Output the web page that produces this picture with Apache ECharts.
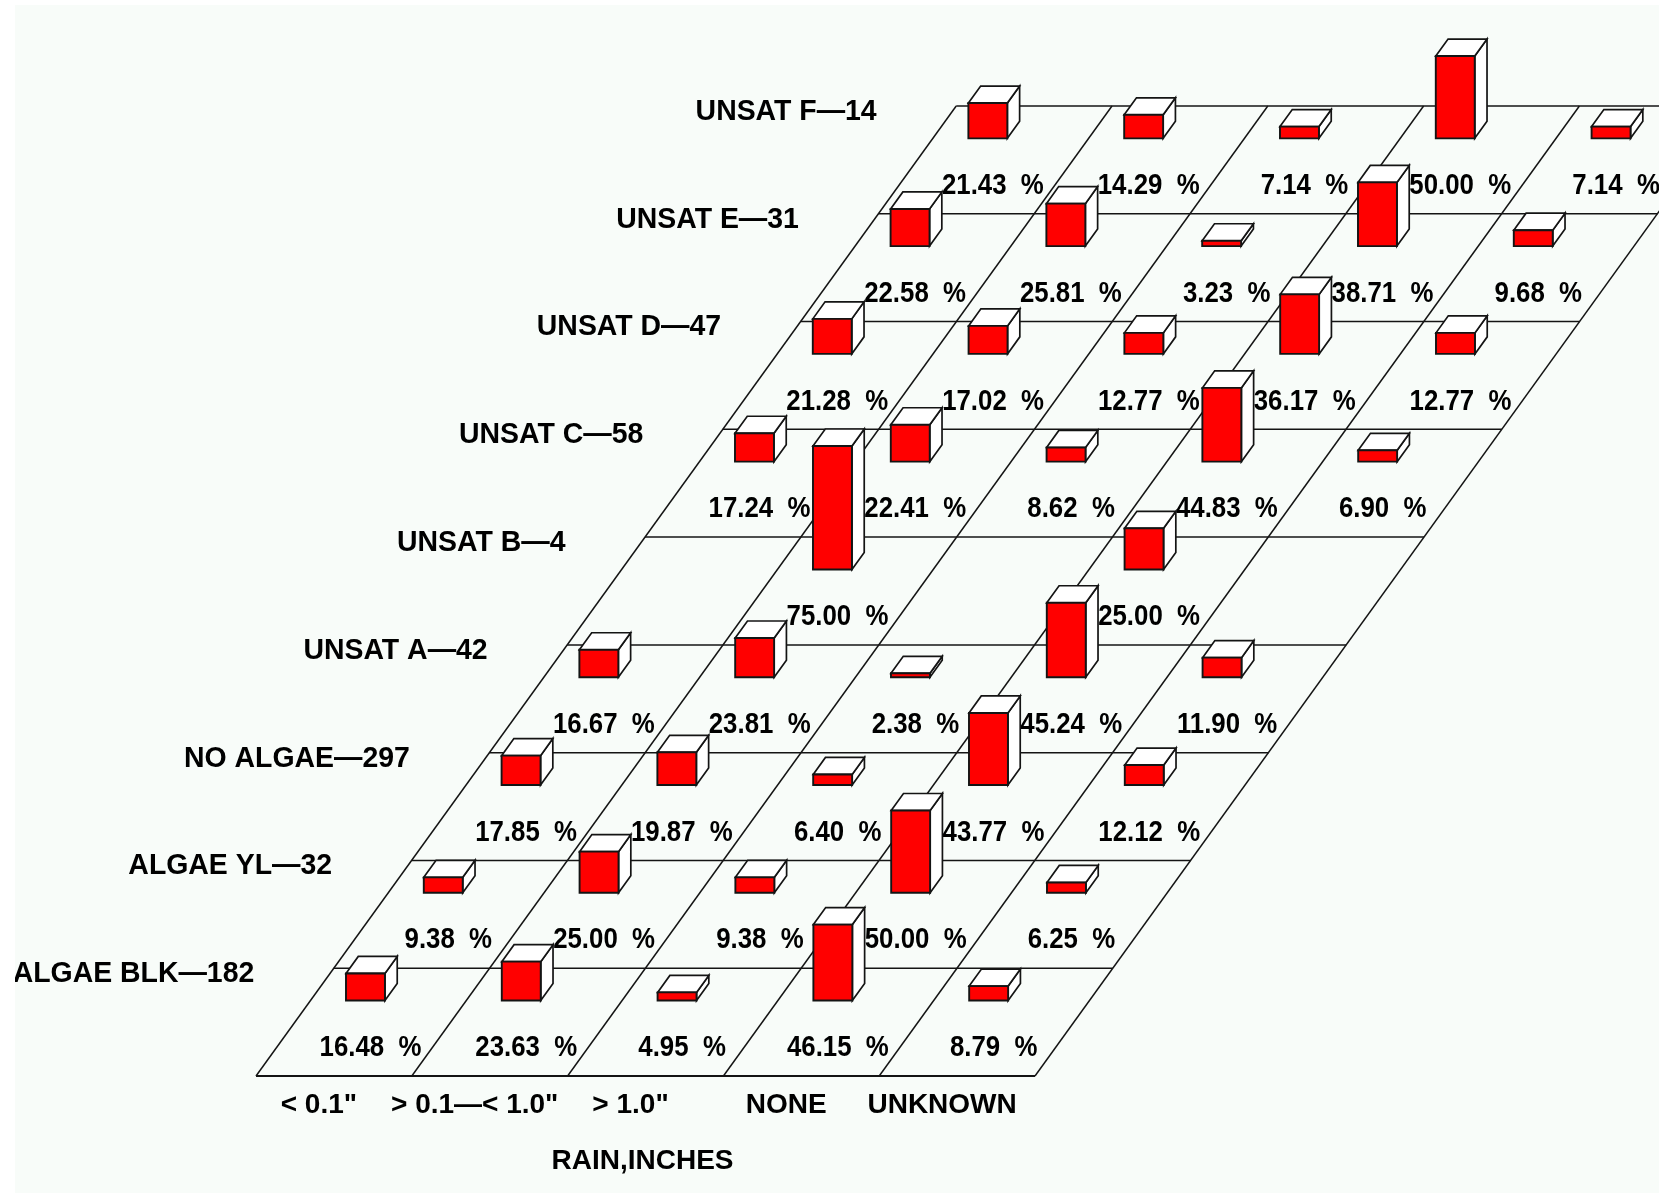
<!DOCTYPE html>
<html>
<head>
<meta charset="utf-8">
<style>
  html, body { margin: 0; background: #fff; }
  #chart { position: absolute; left: 15px; top: 5px; width: 1644px; height: 1188px; background: #f8fcf9; }
</style>
<script src="https://cdn.jsdelivr.net/npm/echarts@6/dist/echarts.min.js"></script>
</head>
<body>
<div id="chart"></div>
<script>
// 横轴 rain categories
const columns = ['< 0.1"', '> 0.1—< 1.0"', '> 1.0"', 'NONE', 'UNKNOWN']
// rows, front to back
const rowLabels = ['ALGAE BLK—182', 'ALGAE YL—32', 'NO ALGAE—297', 'UNSAT A—42', 'UNSAT B—4', 'UNSAT C—58', 'UNSAT D—47', 'UNSAT E—31', 'UNSAT F—14']
const algaeBlk = [16.48, 23.63, 4.95, 46.15, 8.79]
const algaeYl = [9.38, 25.00, 9.38, 50.00, 6.25]
const noAlgae = [17.85, 19.87, 6.40, 43.77, 12.12]
const unsatA = [16.67, 23.81, 2.38, 45.24, 11.90]
const unsatB = [null, 75.00, null, 25.00, null]
const unsatC = [17.24, 22.41, 8.62, 44.83, 6.90]
const unsatD = [21.28, 17.02, 12.77, 36.17, 12.77]
const unsatE = [22.58, 25.81, 3.23, 38.71, 9.68]
const unsatF = [21.43, 14.29, 7.14, 50.00, 7.14]
const rows = [algaeBlk, algaeYl, noAlgae, unsatA, unsatB, unsatC, unsatD, unsatE, unsatF]

// 剪切投影 the floor is a sheared grid
const SHEAR = 77.8       // px per row
const BAR_U = 0.228      // bar position inside a cell
const BAR_V = 0.70
const BAR_W = 0.25
const BAR_DEPTH = 0.158  // rows
const PCT_PER_ROW = 65.5
const LABEL_U = 0.605
const LABEL_V = 0.26
const LINE = '#141414'
const VALUE_FONT = 'bold 30px "Liberation Sans"'
const VALUE_SCALE = 0.86  // 原图字体偏窄
const NAME_FONT = 'bold 29px "Liberation Sans"'
const NAME_SCALE = 0.98

const chart = echarts.init(document.getElementById('chart'))

function project(api, u, v) {
  const p = api.coord([u, v])
  return [p[0] + SHEAR * v, p[1]]
}

function renderLine(params, api) {
  const isRow = api.value(0) === 0
  const i = api.value(1)
  const a = isRow ? project(api, 0, i) : project(api, i, 0)
  const b = isRow ? project(api, 5, i) : project(api, i, 9)
  return {
    type: 'line',
    shape: { x1: a[0], y1: a[1], x2: b[0], y2: b[1] },
    style: { stroke: LINE, lineWidth: isRow && i === 0 ? 2.2 : 1.5 }
  }
}

function renderRowLabel(params, api) {
  const p = project(api, -0.483, api.value(0) + 1 - 0.055)
  return {
    type: 'text',
    x: p[0],
    y: p[1],
    scaleX: NAME_SCALE,
    style: { x: 0, y: 0, text: rowLabels[api.value(0)], align: 'right', verticalAlign: 'middle', font: NAME_FONT, fill: '#000' }
  }
}

function renderBar(params, api) {
  const u = api.value(0) + BAR_U
  const v = api.value(1) + BAR_V
  const h = api.value(2) / PCT_PER_ROW
  const base = project(api, u, v)
  // height is straight up, no shear
  const top = api.coord([u, v + h])[1]
  const w = api.size([BAR_W, 0])[0]
  const dy = api.size([0, BAR_DEPTH])[1]
  const dx = SHEAR * BAR_DEPTH
  const x0 = base[0]
  const x1 = base[0] + w
  const y0 = base[1]
  const face = { fill: '#fff', stroke: LINE, lineWidth: 1.7 }
  const label = project(api, api.value(0) + LABEL_U, api.value(1) + LABEL_V)
  return {
    type: 'group',
    children: [
      { type: 'polygon', shape: { points: [[x1, y0], [x1 + dx, y0 - dy], [x1 + dx, top - dy], [x1, top]] }, style: face },
      { type: 'polygon', shape: { points: [[x0, top], [x0 + dx, top - dy], [x1 + dx, top - dy], [x1, top]] }, style: face },
      { type: 'rect', shape: { x: x0, y: top, width: w, height: y0 - top }, style: { fill: '#ff0000', stroke: LINE, lineWidth: 1.9 } },
      {
        type: 'text',
        x: label[0],
        y: label[1],
        scaleX: VALUE_SCALE,
        style: { x: 0, y: 0, text: api.value(2).toFixed(2) + '  %', align: 'center', verticalAlign: 'middle', font: VALUE_FONT, fill: '#000' }
      }
    ]
  }
}

// 先画后排 back rows first so nearer bars cover them
const barData = []
for (let r = rows.length - 1; r >= 0; r--) {
  rows[r].forEach((val, c) => {
    if (val !== null) barData.push([c, r, val])
  })
}
const lineData = []
for (let i = 0; i <= rows.length; i++) lineData.push([0, i])
for (let i = 0; i <= columns.length; i++) lineData.push([1, i])

chart.setOption({
  animation: false,
  grid: { left: 241, top: 101, width: 779, height: 970 },
  xAxis: [{
    type: 'value', min: 0, max: 5, show: false
  }, {
    type: 'category',
    data: columns,
    position: 'bottom',
    axisLine: { show: false },
    axisTick: { show: false },
    axisLabel: { margin: 15, color: '#000', fontFamily: 'Liberation Sans', fontWeight: 'bold', fontSize: 28, padding: [0, 30, 0, 0], interval: 0 },
    name: 'RAIN,INCHES',
    nameLocation: 'middle',
    nameGap: 71,
    nameTextStyle: { color: '#000', fontFamily: 'Liberation Sans', fontWeight: 'bold', fontSize: 28, padding: [0, 6, 0, 0] }
  }],
  yAxis: { type: 'value', min: 0, max: 9, show: false },
  series: [
    { type: 'custom', renderItem: renderLine, data: lineData, silent: true, z: 1 },
    { type: 'custom', renderItem: renderRowLabel, data: rowLabels.map((d, i) => [i]), encode: { x: -1, y: -1 }, silent: true, z: 2 },
    { type: 'custom', renderItem: renderBar, data: barData, encode: { x: 0, y: 1 }, silent: true, z: 3 }
  ]
})
</script>
</body>
</html>
